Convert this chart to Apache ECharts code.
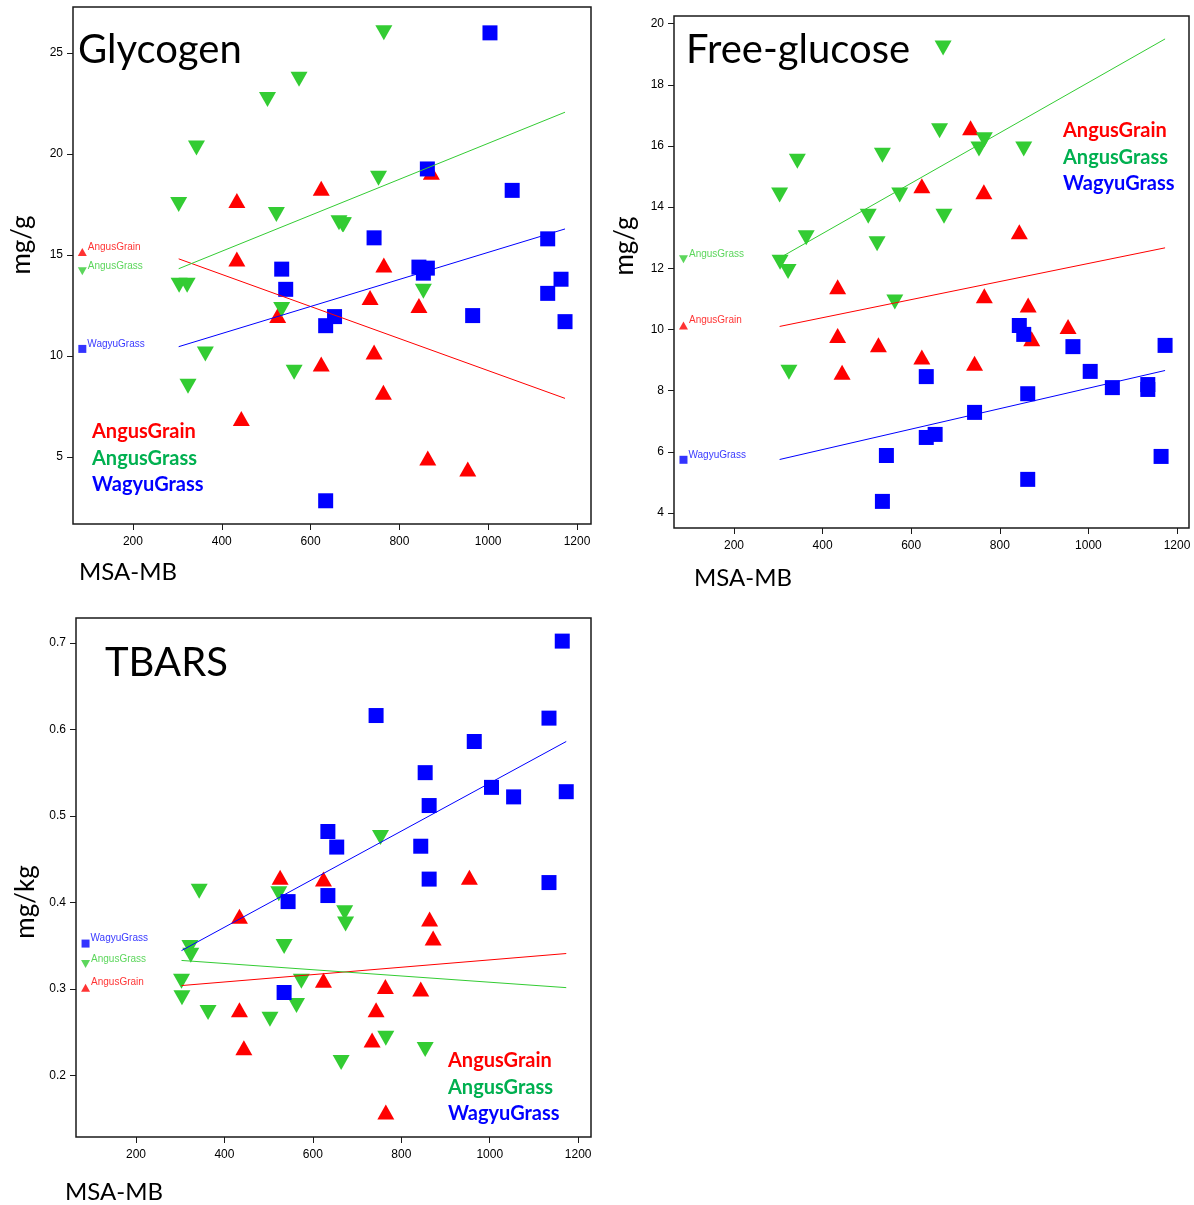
<!DOCTYPE html>
<html>
<head>
<meta charset="utf-8">
<script src="https://cdn.jsdelivr.net/npm/echarts@6/dist/echarts.min.js"></script>
<style>
  html, body { margin: 0; padding: 0; background: #fff; }
  #chart { width: 1194px; height: 1205px; }
</style>
</head>
<body>
<div id="chart"></div>
<script>
// MSA-MB of each animal, per group
const grainX = [434, 434, 444, 526, 624, 624, 734, 743, 764, 765, 844, 864, 872, 954];
const grassX = [303, 304, 322, 324, 343, 363, 503, 523, 535, 563, 574, 664, 672, 674, 753, 765, 854];
const wagyuX = [535, 544, 634, 634, 654, 743, 844, 854, 863, 863, 965, 1004, 1054, 1134, 1134, 1164, 1173];

// Glycogen (mg/g)
const glycogenGrain = [17.7, 14.8, 6.9, 12.0, 18.3, 9.6, 12.9, 10.2, 8.2, 14.5, 12.5, 4.95, 19.1, 4.4];
const glycogenGrass = [17.5, 13.5, 13.5, 8.5, 20.3, 10.1, 22.7, 17.0, 12.3, 9.2, 23.7, 16.6, 16.5, 16.5, 18.8, 26.0, 13.2];
const glycogenWagyu = [14.3, 13.3, 11.5, 2.83, 11.95, 15.85, 14.4, 14.1, 19.26, 14.35, 12.0, 26.0, 18.2, 15.8, 13.1, 13.8, 11.7];

// Free-glucose (mg/g)
const glucoseGrain = [11.4, 9.8, 8.6, 9.5, 14.7, 9.1, 16.6, 8.9, 14.5, 11.1, 13.2, 10.8, 9.7, 10.1];
const glucoseGrass = [14.4, 12.2, 11.9, 8.6, 15.5, 13.0, 13.7, 12.8, 15.7, 10.9, 14.4, 16.5, 19.2, 13.7, 15.9, 16.2, 15.9];
const glucoseWagyu = [4.38, 5.88, 8.46, 6.47, 6.57, 7.29, 10.13, 9.84, 7.9, 5.1, 9.44, 8.63, 8.1, 8.2, 8.04, 5.85, 9.48];

// TBARS (mg/kg)
const tbarsGrain = [0.384, 0.276, 0.232, 0.429, 0.427, 0.310, 0.241, 0.276, 0.303, 0.158, 0.300, 0.381, 0.359, 0.429];
const tbarsGrass = [0.309, 0.290, 0.348, 0.339, 0.413, 0.273, 0.265, 0.410, 0.349, 0.281, 0.309, 0.215, 0.388, 0.375, 0.475, 0.243, 0.230];
const tbarsWagyu = [0.296, 0.401, 0.482, 0.408, 0.464, 0.616, 0.465, 0.550, 0.512, 0.427, 0.586, 0.533, 0.522, 0.613, 0.423, 0.702, 0.528];

// Fitted lines: value at the left and right end of the MSA-MB range
const fitX = [303, 1173];
const glycogenFit = { grain: [14.81, 7.9], grass: [14.32, 22.07], wagyu: [10.46, 16.29] };
const glucoseFit  = { grain: [10.1, 12.67], grass: [12.34, 19.5], wagyu: [5.75, 8.66] };
const tbarsFit    = { grain: [0.304, 0.341], grass: [0.333, 0.3016], wagyu: [0.3444, 0.586] };

// Small group keys beside the y axis
const keyX = 86;
const glycogenKey = { grain: 15.15, grass: 14.2, wagyu: 10.35 };
const glucoseKey  = { grain: 10.13, grass: 12.3, wagyu: 5.74 };
const tbarsKey    = { grain: 0.3016, grass: 0.329, wagyu: 0.3525 };

// Axis ticks
const xTicks = [200, 400, 600, 800, 1000, 1200];
const glycogenTicks = [5, 10, 15, 20, 25];
const glucoseTicks = [4, 6, 8, 10, 12, 14, 16, 18, 20];
const tbarsTicks = [0.2, 0.3, 0.4, 0.5, 0.6, 0.7];

const groupNames = { grain: 'AngusGrain', grass: 'AngusGrass', wagyu: 'WagyuGrass' };

const RED = '#ff0000', GREEN = '#33cc33', BLUE = '#0000ff', GREEN_TXT = '#00b050';
const style = {
  grain: { color: RED, symbol: 'triangle', rotate: 0, size: [17, 15], small: [9, 8] },
  grass: { color: GREEN, symbol: 'triangle', rotate: 180, size: [17, 15], small: [9, 8] },
  wagyu: { color: BLUE, symbol: 'rect', rotate: 0, size: [15, 15], small: [8, 8] }
};

const panels = [
  { grid: { left: 73, top: 7, width: 518, height: 517 }, xMin: 65, xMax: 1231.5, yMin: 1.68, yMax: 27.28,
    yTicks: glycogenTicks, fmt: v => String(v),
    data: { grain: glycogenGrain, grass: glycogenGrass, wagyu: glycogenWagyu }, fit: glycogenFit, key: glycogenKey },
  { grid: { left: 674, top: 16, width: 515, height: 512 }, xMin: 64.6, xMax: 1227, yMin: 3.51, yMax: 20.25,
    yTicks: glucoseTicks, fmt: v => String(v),
    data: { grain: glucoseGrain, grass: glucoseGrass, wagyu: glucoseWagyu }, fit: glucoseFit, key: glucoseKey },
  { grid: { left: 76, top: 618, width: 515, height: 519 }, xMin: 64.4, xMax: 1229, yMin: 0.129, yMax: 0.7287,
    yTicks: tbarsTicks, fmt: v => v.toFixed(1),
    data: { grain: tbarsGrain, grass: tbarsGrass, wagyu: tbarsWagyu }, fit: tbarsFit, key: tbarsKey }
];
const xs = { grain: grainX, grass: grassX, wagyu: wagyuX };

const tickFont = { fontFamily: 'Liberation Sans, Arial, sans-serif', fontSize: 12, color: '#000' };

const grids = [], xAxes = [], yAxes = [], series = [];
panels.forEach((p, i) => {
  grids.push(Object.assign({ show: true, borderColor: '#1a1a1a', borderWidth: 1.5, backgroundColor: '#fff' }, p.grid));
  xAxes.push({
    type: 'value', gridIndex: i, min: p.xMin, max: p.xMax,
    splitLine: { show: false }, axisLine: { show: false },
    axisTick: { show: true, length: 6, inside: false, customValues: xTicks, lineStyle: { color: '#1a1a1a' } },
    axisLabel: Object.assign({ customValues: xTicks, margin: 12, formatter: v => String(Math.round(v)) }, tickFont)
  });
  yAxes.push({
    type: 'value', gridIndex: i, min: p.yMin, max: p.yMax,
    splitLine: { show: false }, axisLine: { show: false },
    axisTick: { show: true, length: 6, inside: false, customValues: p.yTicks, lineStyle: { color: '#1a1a1a' } },
    axisLabel: Object.assign({ customValues: p.yTicks, margin: 10, formatter: p.fmt }, tickFont)
  });
  ['grain', 'grass', 'wagyu'].forEach(g => {
    const st = style[g];
    series.push({
      type: 'scatter', xAxisIndex: i, yAxisIndex: i, z: 2,
      symbol: st.symbol, symbolRotate: st.rotate, symbolSize: st.size,
      itemStyle: { color: st.color, opacity: 1 },
      data: xs[g].map((x, k) => [x, p.data[g][k]])
    });
  });
  ['grain', 'grass', 'wagyu'].forEach(g => {
    series.push({
      type: 'line', xAxisIndex: i, yAxisIndex: i, z: 3, showSymbol: false, symbol: 'none',
      lineStyle: { color: style[g].color, width: 1 },
      data: fitX.map((x, k) => [x, p.fit[g][k]])
    });
  });
  ['grain', 'grass', 'wagyu'].forEach(g => {
    const st = style[g];
    series.push({
      type: 'scatter', xAxisIndex: i, yAxisIndex: i, z: 4,
      symbol: st.symbol, symbolRotate: st.rotate, symbolSize: st.small,
      itemStyle: { color: st.color },
      label: {
        show: true, position: 'right', distance: 1, offset: [0, -5],
        formatter: groupNames[g], color: st.color, fontSize: 10,
        fontFamily: 'Liberation Sans, Arial, sans-serif'
      },
      data: [[keyX, p.key[g]]]
    });
  });
});

const titleFont = 'Lato, "Open Sans", sans-serif';
function text(x, y, str, size, color, weight, extra) {
  return Object.assign({
    type: 'text', x: x, y: y, z: 20,
    style: { text: str, font: (weight || 'normal') + ' ' + size + 'px ' + titleFont, fill: color || '#000',
             textAlign: 'left', textVerticalAlign: 'middle' }
  }, extra || {});
}
function legend(x, y0, gap) {
  return [
    text(x, y0, 'AngusGrain', 20, RED, 'bold'),
    text(x, y0 + gap, 'AngusGrass', 20, GREEN_TXT, 'bold'),
    text(x, y0 + 2 * gap, 'WagyuGrass', 20, BLUE, 'bold')
  ];
}
function vtext(x, y, str) {
  return {
    type: 'text', x: x, y: y, rotation: Math.PI / 2, z: 20,
    style: { text: str, font: 'normal 26px ' + titleFont, fill: '#000', textAlign: 'center', textVerticalAlign: 'middle' }
  };
}

const graphic = [
  text(78, 50, 'Glycogen', 40),
  text(686, 50, 'Free-glucose', 40),
  text(105, 663, 'TBARS', 40),
  ...legend(92, 432, 26.5),
  ...legend(1063, 131, 26.5),
  ...legend(448, 1061, 26.5),
  vtext(22, 245, 'mg/g'),
  vtext(625, 246, 'mg/g'),
  vtext(26, 902, 'mg/kg'),
  text(79, 572, 'MSA-MB', 24),
  text(694, 578, 'MSA-MB', 24),
  text(65, 1192, 'MSA-MB', 24)
];

const chart = echarts.init(document.getElementById('chart'), null, { renderer: 'canvas' });
chart.setOption({
  animation: false,
  backgroundColor: '#fff',
  grid: grids, xAxis: xAxes, yAxis: yAxes, series: series, graphic: graphic
});
</script>
</body>
</html>
